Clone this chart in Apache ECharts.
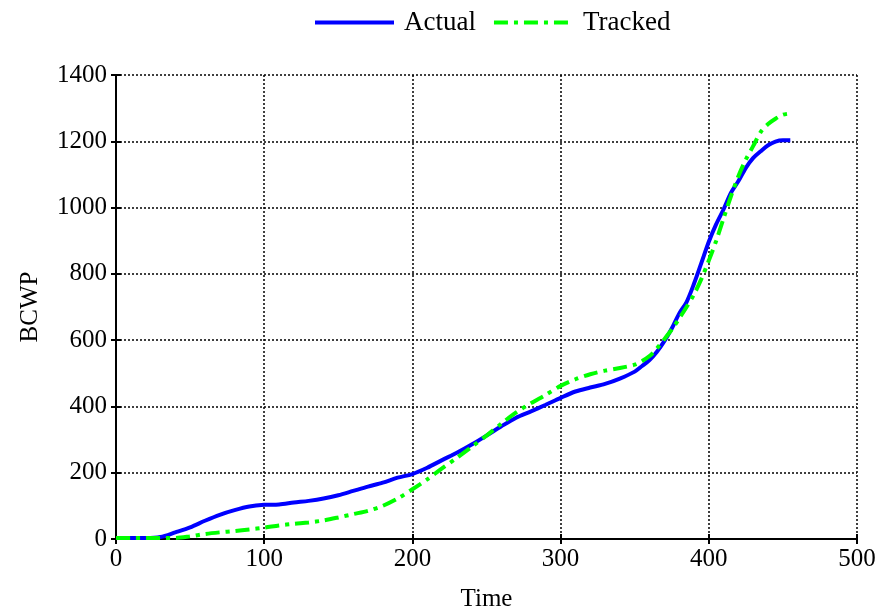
<!DOCTYPE html>
<html><head><meta charset="utf-8">
<script src="https://cdn.jsdelivr.net/npm/echarts@6/dist/echarts.min.js"></script>
<style>html,body{margin:0;padding:0;background:#fff}#c{width:884px;height:613px}</style>
</head><body><div id="c"></div>
<script>
const actualT = [0,10,20,30,40,50,60,70,80,90,100,110,120,130,140,150,160,170,180,190,200,210,220,230,240,250,260,270,280,290,300,310,320,330,340,350,355,360,365,370,375,380,385,390,395,400,405,410,415,420,425,430,435,440,445,450,455];
const actualV = [3,3,3,6,20,35,55,73,87,98,103,104,110,115,122,132,145,158,170,185,196,215,238,260,285,312,340,366,385,405,426,445,457,468,484,505,522,540,565,597,635,680,715,770,833,897,950,995,1045,1080,1120,1150,1170,1188,1199,1203,1203];
const trackedT = [0,10,20,30,40,50,60,70,80,90,100,110,120,130,140,150,160,170,180,190,200,210,220,230,240,250,260,270,280,290,300,310,320,330,340,350,355,360,365,370,375,380,385,390,395,400,405,410,415,420,425,430,435,440,445,450,455];
const trackedV = [3,3,3,3,3,8,15,20,24,29,34,41,46,50,56,65,75,85,100,122,150,180,213,245,278,312,348,382,410,435,462,482,497,508,516,526,537,552,575,603,632,665,700,738,785,840,900,968,1035,1095,1145,1186,1228,1252,1268,1280,1284];
const xTicks = [0,100,200,300,400,500];
const yTicks = [0,200,400,600,800,1000,1200,1400];

const font = 'Liberation Serif';
const fs = 25;
const gridLine = {show:true, lineStyle:{color:'#000', type:[2,2], width:1.5}};
const chart = echarts.init(document.getElementById('c'));
chart.setOption({
  animation:false,
  textStyle:{fontFamily:font},
  legend:{top:4, left:308, itemWidth:79, itemHeight:14, itemGap:16,
    itemStyle:{color:'rgba(0,0,0,0)', borderColor:'rgba(0,0,0,0)', borderWidth:0},
    lineStyle:{width:4},
    textStyle:{fontFamily:font, fontSize:27, color:'#000', padding:[0,0,0,5]},
    data:['Actual','Tracked']},
  grid:{left:116, right:27, top:75, bottom:74, outerBoundsMode:'none', containLabel:false},
  xAxis:[{type:'value', min:xTicks[0], max:xTicks[xTicks.length-1], interval:100,
    name:'Time', nameLocation:'middle', nameGap:48,
    nameTextStyle:{fontFamily:font, fontSize:fs, color:'#000'},
    axisLine:{lineStyle:{color:'#000', width:2}},
    axisTick:{inside:true, length:5, lineStyle:{color:'#000', width:2}},
    axisLabel:{fontFamily:font, fontSize:fs, color:'#000', margin:8, formatter:v=>String(v)},
    splitLine:gridLine},
   {type:'value', position:'top', min:0, max:500, interval:100,
    axisLine:{show:true, lineStyle:{color:'#000', width:2}},
    axisTick:{show:true, inside:true, length:5, lineStyle:{color:'#000', width:2}},
    axisLabel:{show:false}, splitLine:{show:false}}],
  yAxis:[{type:'value', min:yTicks[0], max:yTicks[yTicks.length-1], interval:200,
    name:'BCWP', nameLocation:'middle', nameGap:73,
    nameTextStyle:{fontFamily:font, fontSize:fs, color:'#000'},
    axisLine:{show:true, lineStyle:{color:'#000', width:2}},
    axisTick:{show:true, inside:true, length:5, lineStyle:{color:'#000', width:2}},
    axisLabel:{fontFamily:font, fontSize:fs, color:'#000', margin:9, formatter:v=>String(v)},
    splitLine:gridLine},
   {type:'value', position:'right', min:0, max:1400, interval:200,
    axisLine:{show:true, lineStyle:{color:'#000', width:2}},
    axisTick:{show:true, inside:true, length:5, lineStyle:{color:'#000', width:2}},
    axisLabel:{show:false}, splitLine:{show:false}}],
  series:[
    {name:'Actual', type:'line', symbol:'none', smooth:0.3,
     data:actualT.map((t,i)=>[t, actualV[i]]),
     lineStyle:{color:'#0000ff', width:4}, itemStyle:{color:'#0000ff'}},
    {name:'Tracked', type:'line', symbol:'none', smooth:0.3,
     data:trackedT.map((t,i)=>[t, trackedV[i]]),
     lineStyle:{color:'#00ff00', width:4, type:[14,6,4,6]}, itemStyle:{color:'#00ff00'}}
  ]
});
</script></body></html>
